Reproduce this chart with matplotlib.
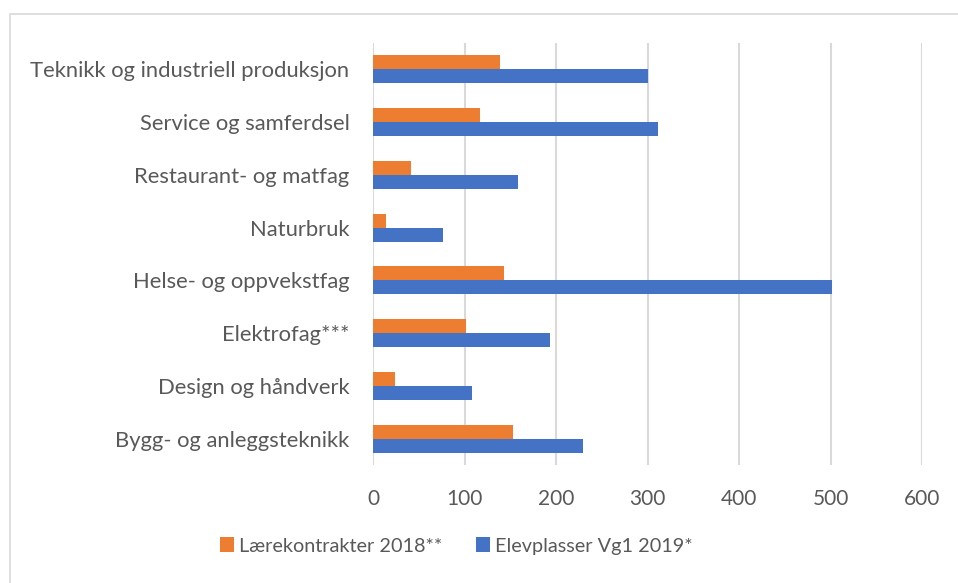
import matplotlib
matplotlib.use("Agg")
import matplotlib.pyplot as plt
from matplotlib.patches import Rectangle
import numpy as np

categories = ["Bygg- og anleggsteknikk", "Design og håndverk", "Elektrofag***",
              "Helse- og oppvekstfag", "Naturbruk", "Restaurant- og matfag",
              "Service og samferdsel", "Teknikk og industriell produksjon"]
laerekontrakter = [153, 24, 102, 143, 14, 42, 117, 139]
elevplasser = [229, 108, 193, 502, 77, 159, 311, 300]
series_names = ["Lærekontrakter 2018**", "Elevplasser Vg1 2019*"]
xticks = [0, 100, 200, 300, 400, 500, 600]

plt.rcParams['font.family'] = ['Lato', 'DejaVu Sans']
text_color = "#595959"
orange = "#ED7D31"
blue = "#4472C4"

fig = plt.figure(figsize=(9.58, 5.83), dpi=100)
ax = fig.add_axes([373/958, 1-465/583, (922-373)/958, (465-43)/583])

y = np.arange(len(categories))
h = 0.265
ax.barh(y + h/2, laerekontrakter, height=h, color=orange, label=series_names[0], zorder=3)
ax.barh(y - h/2, elevplasser, height=h, color=blue, label=series_names[1], zorder=3)

ax.set_xlim(0, 600)
ax.set_ylim(-0.5, len(categories) - 0.5)
ax.set_xticks(xticks)
ax.set_xticklabels([str(t) for t in xticks])
ax.set_yticks(y)
ax.set_yticklabels(categories)
ax.tick_params(axis='both', length=0, colors=text_color)
ax.tick_params(axis='x', pad=17, labelsize=15)
ax.tick_params(axis='y', pad=17, labelsize=15.8)
ax.grid(axis='x', color="#d9d9d9", linewidth=1.5, zorder=0)
for s in ax.spines.values():
    s.set_visible(False)

fig.patches.append(Rectangle((10/958, -0.1), 1.2, 1 - 14/583 + 0.1, transform=fig.transFigure,
                             fill=False, edgecolor="#d9d9d9", linewidth=1.2))

handles, labels = ax.get_legend_handles_labels()
fig.legend(handles, labels, loc='center', bbox_to_anchor=(456.5/958, 1-546/583), ncol=2,
           frameon=False, fontsize=14.3, labelcolor=text_color, handlelength=0.72,
           handleheight=0.72, handletextpad=0.25, columnspacing=1.7)

fig.savefig("out.png", dpi=100)
